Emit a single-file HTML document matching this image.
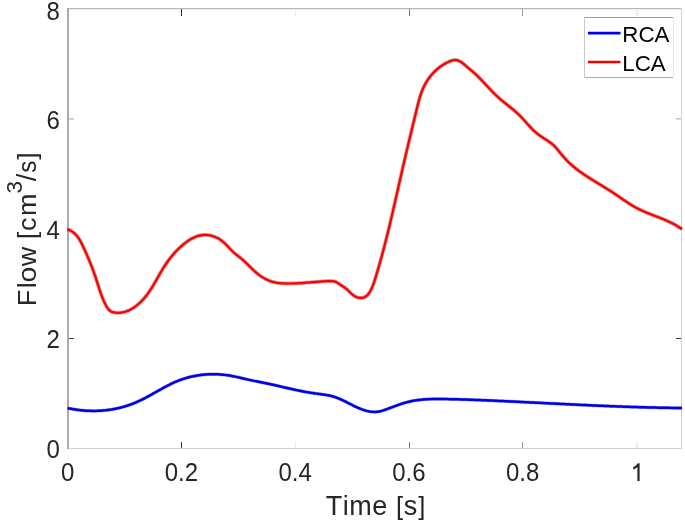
<!DOCTYPE html>
<html><head><meta charset="utf-8"><style>
html,body{margin:0;padding:0;background:#fff;overflow:hidden;}
svg{display:block;font-family:"Liberation Sans",sans-serif;will-change:transform;}

</style></head><body>
<svg width="685" height="522" viewBox="0 0 685 522">
<rect width="685" height="522" fill="#fff"/>
<rect x="67" y="8" width="615" height="1" fill="#b6b6b6"/>
<rect x="67" y="9" width="615" height="0.35" fill="#d8d8d8"/>
<rect x="67" y="448" width="615" height="1" fill="#d2d2d2"/>
<rect x="67" y="8" width="2" height="441" fill="#ababab"/>
<rect x="681" y="8" width="1" height="441" fill="#d4d4d4"/>
<rect x="181" y="442" width="1" height="6" fill="#333333"/>
<rect x="181" y="9" width="1" height="7" fill="#333333"/>
<rect x="295" y="442" width="1" height="6" fill="#ececec"/>
<rect x="295" y="9" width="1" height="7" fill="#ececec"/>
<rect x="409" y="442" width="1" height="6" fill="#7a7a7a"/>
<rect x="409" y="9" width="1" height="7" fill="#7a7a7a"/>
<rect x="522" y="442" width="1" height="6" fill="#959595"/>
<rect x="522" y="9" width="1" height="7" fill="#959595"/>
<rect x="636" y="442" width="1" height="6" fill="#f0f0f0"/>
<rect x="636" y="9" width="1" height="7" fill="#f0f0f0"/>
<rect x="637" y="442" width="1" height="6" fill="#eaeaea"/>
<rect x="637" y="9" width="1" height="7" fill="#eaeaea"/>
<rect x="69" y="338" width="5" height="1" fill="#3a3a3a"/>
<rect x="676" y="338" width="5" height="1" fill="#3a3a3a"/>
<rect x="69" y="228" width="5" height="1" fill="#d8d8d8"/>
<rect x="676" y="228" width="5" height="1" fill="#d8d8d8"/>
<rect x="69" y="118.4" width="5" height="1" fill="#a8a8a8"/>
<rect x="676" y="118.4" width="5" height="1" fill="#a8a8a8"/>
<path d="M67.60,408.10 L68.77,408.35 L69.95,408.59 L71.13,408.82 L72.31,409.03 L73.49,409.24 L74.68,409.43 L75.87,409.61 L77.05,409.78 L78.24,409.94 L79.44,410.09 L80.63,410.22 L81.82,410.34 L83.02,410.46 L84.21,410.55 L85.41,410.64 L86.61,410.72 L87.81,410.78 L89.01,410.83 L90.21,410.87 L91.41,410.90 L92.61,410.91 L93.81,410.91 L95.01,410.90 L96.21,410.88 L97.41,410.84 L98.61,410.80 L99.81,410.74 L101.01,410.66 L102.21,410.58 L103.40,410.48 L104.60,410.37 L105.79,410.25 L106.99,410.11 L108.18,409.96 L109.37,409.80 L110.55,409.63 L111.74,409.44 L112.92,409.24 L114.11,409.02 L115.28,408.80 L116.46,408.56 L117.63,408.30 L118.80,408.04 L119.97,407.76 L121.14,407.46 L122.30,407.16 L123.45,406.84 L124.61,406.50 L125.76,406.16 L126.90,405.80 L128.04,405.42 L129.18,405.04 L130.31,404.64 L131.44,404.22 L132.56,403.79 L133.68,403.35 L134.79,402.90 L135.90,402.43 L137.00,401.95 L138.09,401.46 L139.18,400.96 L140.27,400.44 L141.35,399.92 L142.42,399.38 L143.49,398.84 L144.56,398.29 L145.63,397.74 L146.69,397.17 L147.74,396.61 L148.80,396.03 L149.85,395.46 L150.90,394.88 L151.95,394.29 L153.00,393.71 L154.05,393.12 L155.09,392.53 L156.14,391.94 L157.18,391.35 L158.23,390.76 L159.28,390.17 L160.33,389.59 L161.38,389.01 L162.43,388.43 L163.48,387.85 L164.54,387.28 L165.60,386.72 L166.66,386.16 L167.72,385.60 L168.79,385.06 L169.87,384.52 L170.95,383.99 L172.03,383.47 L173.12,382.96 L174.21,382.46 L175.30,381.98 L176.41,381.50 L177.52,381.04 L178.63,380.59 L179.75,380.16 L180.88,379.74 L182.01,379.34 L183.14,378.95 L184.29,378.58 L185.43,378.23 L186.58,377.89 L187.74,377.56 L188.90,377.25 L190.06,376.96 L191.23,376.68 L192.40,376.42 L193.58,376.17 L194.76,375.94 L195.94,375.72 L197.12,375.52 L198.31,375.33 L199.49,375.16 L200.68,375.00 L201.88,374.85 L203.07,374.72 L204.26,374.61 L205.46,374.51 L206.66,374.43 L207.86,374.36 L209.06,374.30 L210.26,374.26 L211.46,374.23 L212.66,374.22 L213.86,374.22 L215.06,374.24 L216.26,374.27 L217.46,374.31 L218.66,374.37 L219.86,374.45 L221.05,374.53 L222.25,374.63 L223.45,374.75 L224.64,374.88 L225.83,375.02 L227.02,375.18 L228.21,375.35 L229.40,375.54 L230.58,375.73 L231.76,375.95 L232.94,376.17 L234.12,376.41 L235.29,376.65 L236.47,376.90 L237.64,377.16 L238.81,377.43 L239.98,377.70 L241.15,377.98 L242.32,378.25 L243.49,378.53 L244.65,378.80 L245.82,379.08 L246.99,379.35 L248.16,379.62 L249.33,379.88 L250.51,380.14 L251.68,380.39 L252.86,380.63 L254.03,380.87 L255.21,381.11 L256.39,381.34 L257.57,381.57 L258.75,381.80 L259.92,382.03 L261.10,382.25 L262.28,382.49 L263.46,382.72 L264.64,382.96 L265.81,383.20 L266.99,383.44 L268.16,383.69 L269.34,383.94 L270.51,384.20 L271.68,384.46 L272.85,384.72 L274.02,384.99 L275.19,385.26 L276.36,385.52 L277.53,385.79 L278.70,386.07 L279.87,386.34 L281.04,386.61 L282.21,386.89 L283.38,387.16 L284.55,387.43 L285.72,387.70 L286.89,387.97 L288.06,388.24 L289.23,388.51 L290.40,388.78 L291.57,389.04 L292.74,389.30 L293.92,389.56 L295.09,389.81 L296.26,390.06 L297.44,390.31 L298.61,390.55 L299.79,390.79 L300.97,391.02 L302.15,391.25 L303.33,391.48 L304.51,391.70 L305.69,391.91 L306.87,392.12 L308.05,392.33 L309.24,392.53 L310.42,392.73 L311.61,392.92 L312.79,393.10 L313.98,393.28 L315.17,393.45 L316.36,393.62 L317.55,393.78 L318.74,393.94 L319.93,394.09 L321.12,394.24 L322.31,394.40 L323.50,394.56 L324.69,394.73 L325.88,394.91 L327.06,395.11 L328.24,395.32 L329.42,395.56 L330.59,395.82 L331.75,396.11 L332.91,396.44 L334.06,396.79 L335.20,397.16 L336.33,397.57 L337.45,398.00 L338.56,398.44 L339.67,398.91 L340.77,399.39 L341.86,399.89 L342.95,400.40 L344.03,400.92 L345.11,401.45 L346.18,401.99 L347.25,402.53 L348.33,403.07 L349.40,403.62 L350.47,404.16 L351.54,404.70 L352.61,405.24 L353.69,405.77 L354.77,406.29 L355.85,406.81 L356.95,407.31 L358.04,407.80 L359.15,408.27 L360.26,408.72 L361.38,409.16 L362.51,409.57 L363.64,409.96 L364.79,410.32 L365.94,410.65 L367.10,410.95 L368.27,411.22 L369.45,411.45 L370.64,411.64 L371.83,411.78 L373.03,411.87 L374.23,411.90 L375.43,411.88 L376.62,411.79 L377.82,411.65 L379.00,411.46 L380.18,411.22 L381.34,410.95 L382.50,410.63 L383.65,410.28 L384.79,409.91 L385.93,409.52 L387.06,409.11 L388.18,408.69 L389.31,408.27 L390.43,407.84 L391.55,407.41 L392.67,406.99 L393.80,406.57 L394.92,406.15 L396.05,405.73 L397.18,405.33 L398.31,404.93 L399.45,404.53 L400.58,404.15 L401.72,403.77 L402.87,403.41 L404.02,403.06 L405.17,402.72 L406.32,402.39 L407.48,402.08 L408.65,401.79 L409.81,401.51 L410.99,401.25 L412.16,401.01 L413.34,400.78 L414.52,400.58 L415.71,400.38 L416.90,400.21 L418.09,400.05 L419.28,399.90 L420.47,399.77 L421.67,399.65 L422.86,399.54 L424.06,399.44 L425.26,399.36 L426.46,399.28 L427.65,399.22 L428.85,399.17 L430.05,399.12 L431.25,399.08 L432.45,399.05 L433.65,399.03 L434.85,399.02 L436.06,399.01 L437.26,399.00 L438.46,399.01 L439.66,399.01 L440.86,399.02 L442.06,399.03 L443.26,399.05 L444.46,399.06 L445.66,399.08 L446.86,399.10 L448.06,399.12 L449.26,399.15 L450.46,399.17 L451.66,399.20 L452.86,399.22 L454.06,399.25 L455.26,399.28 L456.46,399.31 L457.66,399.34 L458.86,399.37 L460.06,399.40 L461.26,399.44 L462.46,399.47 L463.66,399.51 L464.86,399.55 L466.06,399.58 L467.26,399.62 L468.46,399.66 L469.66,399.70 L470.86,399.75 L472.06,399.79 L473.26,399.83 L474.46,399.88 L475.66,399.92 L476.86,399.97 L478.06,400.01 L479.26,400.06 L480.46,400.11 L481.66,400.15 L482.86,400.20 L484.06,400.25 L485.26,400.30 L486.46,400.35 L487.66,400.40 L488.86,400.46 L490.06,400.51 L491.26,400.56 L492.46,400.61 L493.66,400.67 L494.86,400.72 L496.06,400.78 L497.26,400.83 L498.45,400.88 L499.65,400.94 L500.85,400.99 L502.05,401.05 L503.25,401.11 L504.45,401.16 L505.65,401.22 L506.85,401.27 L508.05,401.33 L509.25,401.39 L510.45,401.44 L511.65,401.50 L512.85,401.56 L514.05,401.62 L515.24,401.67 L516.44,401.73 L517.64,401.79 L518.84,401.85 L520.04,401.91 L521.24,401.97 L522.44,402.02 L523.64,402.08 L524.84,402.14 L526.04,402.20 L527.24,402.26 L528.44,402.32 L529.64,402.38 L530.83,402.44 L532.03,402.50 L533.23,402.56 L534.43,402.61 L535.63,402.67 L536.83,402.73 L538.03,402.79 L539.23,402.85 L540.43,402.91 L541.63,402.97 L542.83,403.03 L544.03,403.09 L545.22,403.15 L546.42,403.21 L547.62,403.27 L548.82,403.33 L550.02,403.39 L551.22,403.45 L552.42,403.51 L553.62,403.56 L554.82,403.62 L556.02,403.68 L557.22,403.74 L558.42,403.80 L559.61,403.86 L560.81,403.92 L562.01,403.98 L563.21,404.03 L564.41,404.09 L565.61,404.15 L566.81,404.21 L568.01,404.27 L569.21,404.32 L570.41,404.38 L571.61,404.44 L572.81,404.50 L574.01,404.55 L575.20,404.61 L576.40,404.67 L577.60,404.72 L578.80,404.78 L580.00,404.84 L581.20,404.89 L582.40,404.95 L583.60,405.00 L584.80,405.06 L586.00,405.11 L587.20,405.17 L588.40,405.22 L589.60,405.27 L590.80,405.33 L592.00,405.38 L593.20,405.43 L594.39,405.49 L595.59,405.54 L596.79,405.59 L597.99,405.64 L599.19,405.69 L600.39,405.74 L601.59,405.79 L602.79,405.84 L603.99,405.89 L605.19,405.94 L606.39,405.99 L607.59,406.04 L608.79,406.09 L609.99,406.14 L611.19,406.19 L612.39,406.23 L613.59,406.28 L614.79,406.33 L615.99,406.37 L617.19,406.42 L618.39,406.46 L619.59,406.51 L620.79,406.55 L621.99,406.59 L623.19,406.64 L624.39,406.68 L625.59,406.72 L626.79,406.76 L627.99,406.80 L629.19,406.84 L630.39,406.88 L631.59,406.92 L632.79,406.96 L633.99,407.00 L635.19,407.04 L636.39,407.08 L637.59,407.11 L638.79,407.15 L639.99,407.18 L641.19,407.22 L642.39,407.25 L643.59,407.29 L644.79,407.32 L645.99,407.35 L647.19,407.38 L648.39,407.42 L649.59,407.45 L650.79,407.48 L651.99,407.51 L653.19,407.53 L654.39,407.56 L655.59,407.59 L656.79,407.62 L657.99,407.64 L659.19,407.67 L660.39,407.69 L661.59,407.71 L662.79,407.74 L663.99,407.76 L665.19,407.78 L666.39,407.80 L667.59,407.82 L668.79,407.84 L669.99,407.86 L671.19,407.88 L672.40,407.89 L673.60,407.91 L674.80,407.93 L676.00,407.94 L677.20,407.95 L678.40,407.97 L679.60,407.98 L680.80,407.99 L682.00,408.00" fill="none" stroke="#4848a0" stroke-width="3.4" stroke-linejoin="round" stroke-opacity="0.5"/>
<path d="M67.60,408.10 L68.77,408.35 L69.95,408.59 L71.13,408.82 L72.31,409.03 L73.49,409.24 L74.68,409.43 L75.87,409.61 L77.05,409.78 L78.24,409.94 L79.44,410.09 L80.63,410.22 L81.82,410.34 L83.02,410.46 L84.21,410.55 L85.41,410.64 L86.61,410.72 L87.81,410.78 L89.01,410.83 L90.21,410.87 L91.41,410.90 L92.61,410.91 L93.81,410.91 L95.01,410.90 L96.21,410.88 L97.41,410.84 L98.61,410.80 L99.81,410.74 L101.01,410.66 L102.21,410.58 L103.40,410.48 L104.60,410.37 L105.79,410.25 L106.99,410.11 L108.18,409.96 L109.37,409.80 L110.55,409.63 L111.74,409.44 L112.92,409.24 L114.11,409.02 L115.28,408.80 L116.46,408.56 L117.63,408.30 L118.80,408.04 L119.97,407.76 L121.14,407.46 L122.30,407.16 L123.45,406.84 L124.61,406.50 L125.76,406.16 L126.90,405.80 L128.04,405.42 L129.18,405.04 L130.31,404.64 L131.44,404.22 L132.56,403.79 L133.68,403.35 L134.79,402.90 L135.90,402.43 L137.00,401.95 L138.09,401.46 L139.18,400.96 L140.27,400.44 L141.35,399.92 L142.42,399.38 L143.49,398.84 L144.56,398.29 L145.63,397.74 L146.69,397.17 L147.74,396.61 L148.80,396.03 L149.85,395.46 L150.90,394.88 L151.95,394.29 L153.00,393.71 L154.05,393.12 L155.09,392.53 L156.14,391.94 L157.18,391.35 L158.23,390.76 L159.28,390.17 L160.33,389.59 L161.38,389.01 L162.43,388.43 L163.48,387.85 L164.54,387.28 L165.60,386.72 L166.66,386.16 L167.72,385.60 L168.79,385.06 L169.87,384.52 L170.95,383.99 L172.03,383.47 L173.12,382.96 L174.21,382.46 L175.30,381.98 L176.41,381.50 L177.52,381.04 L178.63,380.59 L179.75,380.16 L180.88,379.74 L182.01,379.34 L183.14,378.95 L184.29,378.58 L185.43,378.23 L186.58,377.89 L187.74,377.56 L188.90,377.25 L190.06,376.96 L191.23,376.68 L192.40,376.42 L193.58,376.17 L194.76,375.94 L195.94,375.72 L197.12,375.52 L198.31,375.33 L199.49,375.16 L200.68,375.00 L201.88,374.85 L203.07,374.72 L204.26,374.61 L205.46,374.51 L206.66,374.43 L207.86,374.36 L209.06,374.30 L210.26,374.26 L211.46,374.23 L212.66,374.22 L213.86,374.22 L215.06,374.24 L216.26,374.27 L217.46,374.31 L218.66,374.37 L219.86,374.45 L221.05,374.53 L222.25,374.63 L223.45,374.75 L224.64,374.88 L225.83,375.02 L227.02,375.18 L228.21,375.35 L229.40,375.54 L230.58,375.73 L231.76,375.95 L232.94,376.17 L234.12,376.41 L235.29,376.65 L236.47,376.90 L237.64,377.16 L238.81,377.43 L239.98,377.70 L241.15,377.98 L242.32,378.25 L243.49,378.53 L244.65,378.80 L245.82,379.08 L246.99,379.35 L248.16,379.62 L249.33,379.88 L250.51,380.14 L251.68,380.39 L252.86,380.63 L254.03,380.87 L255.21,381.11 L256.39,381.34 L257.57,381.57 L258.75,381.80 L259.92,382.03 L261.10,382.25 L262.28,382.49 L263.46,382.72 L264.64,382.96 L265.81,383.20 L266.99,383.44 L268.16,383.69 L269.34,383.94 L270.51,384.20 L271.68,384.46 L272.85,384.72 L274.02,384.99 L275.19,385.26 L276.36,385.52 L277.53,385.79 L278.70,386.07 L279.87,386.34 L281.04,386.61 L282.21,386.89 L283.38,387.16 L284.55,387.43 L285.72,387.70 L286.89,387.97 L288.06,388.24 L289.23,388.51 L290.40,388.78 L291.57,389.04 L292.74,389.30 L293.92,389.56 L295.09,389.81 L296.26,390.06 L297.44,390.31 L298.61,390.55 L299.79,390.79 L300.97,391.02 L302.15,391.25 L303.33,391.48 L304.51,391.70 L305.69,391.91 L306.87,392.12 L308.05,392.33 L309.24,392.53 L310.42,392.73 L311.61,392.92 L312.79,393.10 L313.98,393.28 L315.17,393.45 L316.36,393.62 L317.55,393.78 L318.74,393.94 L319.93,394.09 L321.12,394.24 L322.31,394.40 L323.50,394.56 L324.69,394.73 L325.88,394.91 L327.06,395.11 L328.24,395.32 L329.42,395.56 L330.59,395.82 L331.75,396.11 L332.91,396.44 L334.06,396.79 L335.20,397.16 L336.33,397.57 L337.45,398.00 L338.56,398.44 L339.67,398.91 L340.77,399.39 L341.86,399.89 L342.95,400.40 L344.03,400.92 L345.11,401.45 L346.18,401.99 L347.25,402.53 L348.33,403.07 L349.40,403.62 L350.47,404.16 L351.54,404.70 L352.61,405.24 L353.69,405.77 L354.77,406.29 L355.85,406.81 L356.95,407.31 L358.04,407.80 L359.15,408.27 L360.26,408.72 L361.38,409.16 L362.51,409.57 L363.64,409.96 L364.79,410.32 L365.94,410.65 L367.10,410.95 L368.27,411.22 L369.45,411.45 L370.64,411.64 L371.83,411.78 L373.03,411.87 L374.23,411.90 L375.43,411.88 L376.62,411.79 L377.82,411.65 L379.00,411.46 L380.18,411.22 L381.34,410.95 L382.50,410.63 L383.65,410.28 L384.79,409.91 L385.93,409.52 L387.06,409.11 L388.18,408.69 L389.31,408.27 L390.43,407.84 L391.55,407.41 L392.67,406.99 L393.80,406.57 L394.92,406.15 L396.05,405.73 L397.18,405.33 L398.31,404.93 L399.45,404.53 L400.58,404.15 L401.72,403.77 L402.87,403.41 L404.02,403.06 L405.17,402.72 L406.32,402.39 L407.48,402.08 L408.65,401.79 L409.81,401.51 L410.99,401.25 L412.16,401.01 L413.34,400.78 L414.52,400.58 L415.71,400.38 L416.90,400.21 L418.09,400.05 L419.28,399.90 L420.47,399.77 L421.67,399.65 L422.86,399.54 L424.06,399.44 L425.26,399.36 L426.46,399.28 L427.65,399.22 L428.85,399.17 L430.05,399.12 L431.25,399.08 L432.45,399.05 L433.65,399.03 L434.85,399.02 L436.06,399.01 L437.26,399.00 L438.46,399.01 L439.66,399.01 L440.86,399.02 L442.06,399.03 L443.26,399.05 L444.46,399.06 L445.66,399.08 L446.86,399.10 L448.06,399.12 L449.26,399.15 L450.46,399.17 L451.66,399.20 L452.86,399.22 L454.06,399.25 L455.26,399.28 L456.46,399.31 L457.66,399.34 L458.86,399.37 L460.06,399.40 L461.26,399.44 L462.46,399.47 L463.66,399.51 L464.86,399.55 L466.06,399.58 L467.26,399.62 L468.46,399.66 L469.66,399.70 L470.86,399.75 L472.06,399.79 L473.26,399.83 L474.46,399.88 L475.66,399.92 L476.86,399.97 L478.06,400.01 L479.26,400.06 L480.46,400.11 L481.66,400.15 L482.86,400.20 L484.06,400.25 L485.26,400.30 L486.46,400.35 L487.66,400.40 L488.86,400.46 L490.06,400.51 L491.26,400.56 L492.46,400.61 L493.66,400.67 L494.86,400.72 L496.06,400.78 L497.26,400.83 L498.45,400.88 L499.65,400.94 L500.85,400.99 L502.05,401.05 L503.25,401.11 L504.45,401.16 L505.65,401.22 L506.85,401.27 L508.05,401.33 L509.25,401.39 L510.45,401.44 L511.65,401.50 L512.85,401.56 L514.05,401.62 L515.24,401.67 L516.44,401.73 L517.64,401.79 L518.84,401.85 L520.04,401.91 L521.24,401.97 L522.44,402.02 L523.64,402.08 L524.84,402.14 L526.04,402.20 L527.24,402.26 L528.44,402.32 L529.64,402.38 L530.83,402.44 L532.03,402.50 L533.23,402.56 L534.43,402.61 L535.63,402.67 L536.83,402.73 L538.03,402.79 L539.23,402.85 L540.43,402.91 L541.63,402.97 L542.83,403.03 L544.03,403.09 L545.22,403.15 L546.42,403.21 L547.62,403.27 L548.82,403.33 L550.02,403.39 L551.22,403.45 L552.42,403.51 L553.62,403.56 L554.82,403.62 L556.02,403.68 L557.22,403.74 L558.42,403.80 L559.61,403.86 L560.81,403.92 L562.01,403.98 L563.21,404.03 L564.41,404.09 L565.61,404.15 L566.81,404.21 L568.01,404.27 L569.21,404.32 L570.41,404.38 L571.61,404.44 L572.81,404.50 L574.01,404.55 L575.20,404.61 L576.40,404.67 L577.60,404.72 L578.80,404.78 L580.00,404.84 L581.20,404.89 L582.40,404.95 L583.60,405.00 L584.80,405.06 L586.00,405.11 L587.20,405.17 L588.40,405.22 L589.60,405.27 L590.80,405.33 L592.00,405.38 L593.20,405.43 L594.39,405.49 L595.59,405.54 L596.79,405.59 L597.99,405.64 L599.19,405.69 L600.39,405.74 L601.59,405.79 L602.79,405.84 L603.99,405.89 L605.19,405.94 L606.39,405.99 L607.59,406.04 L608.79,406.09 L609.99,406.14 L611.19,406.19 L612.39,406.23 L613.59,406.28 L614.79,406.33 L615.99,406.37 L617.19,406.42 L618.39,406.46 L619.59,406.51 L620.79,406.55 L621.99,406.59 L623.19,406.64 L624.39,406.68 L625.59,406.72 L626.79,406.76 L627.99,406.80 L629.19,406.84 L630.39,406.88 L631.59,406.92 L632.79,406.96 L633.99,407.00 L635.19,407.04 L636.39,407.08 L637.59,407.11 L638.79,407.15 L639.99,407.18 L641.19,407.22 L642.39,407.25 L643.59,407.29 L644.79,407.32 L645.99,407.35 L647.19,407.38 L648.39,407.42 L649.59,407.45 L650.79,407.48 L651.99,407.51 L653.19,407.53 L654.39,407.56 L655.59,407.59 L656.79,407.62 L657.99,407.64 L659.19,407.67 L660.39,407.69 L661.59,407.71 L662.79,407.74 L663.99,407.76 L665.19,407.78 L666.39,407.80 L667.59,407.82 L668.79,407.84 L669.99,407.86 L671.19,407.88 L672.40,407.89 L673.60,407.91 L674.80,407.93 L676.00,407.94 L677.20,407.95 L678.40,407.97 L679.60,407.98 L680.80,407.99 L682.00,408.00" fill="none" stroke="#0000f0" stroke-width="2.5" stroke-linejoin="round"/>
<path d="M67.30,229.30 L68.43,229.70 L69.54,230.17 L70.61,230.70 L71.66,231.30 L72.66,231.95 L73.62,232.67 L74.54,233.45 L75.41,234.27 L76.24,235.15 L77.02,236.06 L77.76,237.00 L78.46,237.98 L79.12,238.98 L79.75,240.00 L80.35,241.04 L80.93,242.10 L81.48,243.16 L82.02,244.24 L82.54,245.32 L83.05,246.41 L83.56,247.50 L84.06,248.59 L84.56,249.68 L85.06,250.77 L85.55,251.87 L86.04,252.97 L86.53,254.06 L87.01,255.16 L87.48,256.27 L87.96,257.37 L88.43,258.48 L88.89,259.58 L89.36,260.69 L89.81,261.80 L90.26,262.92 L90.71,264.03 L91.15,265.15 L91.59,266.27 L92.02,267.39 L92.45,268.51 L92.87,269.63 L93.29,270.76 L93.70,271.89 L94.10,273.02 L94.50,274.15 L94.90,275.29 L95.28,276.42 L95.66,277.56 L96.04,278.70 L96.41,279.85 L96.78,280.99 L97.14,282.14 L97.50,283.28 L97.86,284.43 L98.23,285.57 L98.59,286.72 L98.96,287.86 L99.33,289.00 L99.70,290.14 L100.08,291.28 L100.47,292.42 L100.87,293.55 L101.28,294.68 L101.70,295.81 L102.13,296.93 L102.57,298.05 L103.03,299.16 L103.50,300.26 L103.98,301.36 L104.49,302.45 L105.01,303.53 L105.55,304.61 L106.11,305.67 L106.69,306.72 L107.30,307.75 L107.99,308.74 L108.76,309.66 L109.63,310.48 L110.62,311.17 L111.68,311.71 L112.81,312.14 L113.97,312.44 L115.15,312.65 L116.35,312.76 L117.55,312.80 L118.75,312.78 L119.95,312.70 L121.14,312.56 L122.33,312.37 L123.50,312.12 L124.66,311.82 L125.81,311.47 L126.95,311.07 L128.06,310.63 L129.16,310.15 L130.24,309.62 L131.30,309.06 L132.35,308.46 L133.37,307.83 L134.37,307.17 L135.35,306.48 L136.31,305.76 L137.26,305.01 L138.18,304.25 L139.08,303.45 L139.97,302.64 L140.84,301.81 L141.68,300.96 L142.52,300.09 L143.33,299.21 L144.12,298.31 L144.90,297.40 L145.66,296.47 L146.41,295.53 L147.14,294.57 L147.85,293.61 L148.55,292.63 L149.24,291.64 L149.91,290.65 L150.57,289.65 L151.22,288.64 L151.86,287.62 L152.49,286.60 L153.12,285.57 L153.73,284.54 L154.34,283.50 L154.94,282.46 L155.54,281.42 L156.14,280.38 L156.73,279.33 L157.32,278.29 L157.91,277.24 L158.50,276.20 L159.09,275.15 L159.69,274.11 L160.29,273.07 L160.89,272.03 L161.50,271.00 L162.12,269.96 L162.74,268.94 L163.37,267.92 L164.01,266.90 L164.67,265.89 L165.33,264.89 L166.00,263.89 L166.68,262.90 L167.37,261.92 L168.07,260.95 L168.79,259.98 L169.51,259.02 L170.24,258.07 L170.99,257.13 L171.75,256.20 L172.51,255.27 L173.29,254.36 L174.08,253.45 L174.89,252.56 L175.70,251.68 L176.53,250.81 L177.36,249.94 L178.21,249.09 L179.07,248.26 L179.95,247.43 L180.83,246.62 L181.73,245.82 L182.64,245.03 L183.56,244.26 L184.49,243.50 L185.43,242.76 L186.39,242.04 L187.36,241.33 L188.35,240.65 L189.35,239.99 L190.38,239.36 L191.41,238.76 L192.47,238.18 L193.55,237.65 L194.64,237.15 L195.75,236.70 L196.88,236.29 L198.03,235.93 L199.19,235.62 L200.36,235.37 L201.55,235.17 L202.74,235.04 L203.94,234.97 L205.14,234.95 L206.34,234.99 L207.54,235.09 L208.73,235.23 L209.91,235.43 L211.09,235.68 L212.25,235.98 L213.40,236.32 L214.54,236.71 L215.65,237.15 L216.75,237.64 L217.83,238.18 L218.88,238.76 L219.90,239.39 L220.89,240.06 L221.85,240.78 L222.79,241.54 L223.69,242.33 L224.57,243.15 L225.43,243.99 L226.28,244.84 L227.11,245.71 L227.93,246.58 L228.75,247.46 L229.58,248.33 L230.40,249.20 L231.24,250.07 L232.09,250.91 L232.96,251.74 L233.85,252.55 L234.76,253.33 L235.69,254.10 L236.62,254.85 L237.56,255.60 L238.51,256.34 L239.45,257.09 L240.38,257.85 L241.30,258.61 L242.22,259.39 L243.12,260.19 L244.01,260.99 L244.90,261.80 L245.77,262.62 L246.64,263.46 L247.50,264.30 L248.35,265.14 L249.20,265.99 L250.05,266.84 L250.90,267.69 L251.75,268.53 L252.61,269.37 L253.49,270.20 L254.37,271.01 L255.27,271.80 L256.18,272.59 L257.11,273.35 L258.05,274.10 L259.00,274.83 L259.97,275.53 L260.96,276.22 L261.96,276.88 L262.98,277.52 L264.01,278.13 L265.06,278.72 L266.13,279.27 L267.21,279.79 L268.31,280.28 L269.42,280.74 L270.54,281.16 L271.68,281.54 L272.83,281.88 L273.99,282.19 L275.17,282.45 L276.35,282.68 L277.53,282.87 L278.72,283.03 L279.92,283.16 L281.11,283.27 L282.31,283.36 L283.51,283.42 L284.71,283.47 L285.91,283.50 L287.11,283.52 L288.31,283.52 L289.51,283.52 L290.71,283.51 L291.92,283.49 L293.12,283.46 L294.32,283.42 L295.52,283.38 L296.72,283.32 L297.92,283.27 L299.12,283.20 L300.31,283.13 L301.51,283.06 L302.71,282.98 L303.91,282.89 L305.11,282.80 L306.31,282.71 L307.50,282.62 L308.70,282.52 L309.90,282.42 L311.09,282.32 L312.29,282.22 L313.49,282.12 L314.69,282.03 L315.88,281.93 L317.08,281.83 L318.28,281.74 L319.47,281.64 L320.67,281.55 L321.87,281.47 L323.07,281.38 L324.27,281.31 L325.47,281.23 L326.67,281.17 L327.86,281.10 L329.06,281.05 L330.27,281.02 L331.47,281.04 L332.66,281.13 L333.85,281.32 L335.01,281.62 L336.13,282.06 L337.19,282.62 L338.21,283.25 L339.20,283.93 L340.18,284.62 L341.18,285.30 L342.19,285.94 L343.21,286.59 L344.21,287.25 L345.18,287.95 L346.12,288.70 L347.03,289.49 L347.91,290.30 L348.77,291.14 L349.64,291.97 L350.50,292.80 L351.39,293.62 L352.30,294.40 L353.24,295.15 L354.22,295.83 L355.26,296.44 L356.34,296.96 L357.47,297.36 L358.64,297.66 L359.82,297.85 L361.02,297.93 L362.22,297.88 L363.40,297.66 L364.52,297.25 L365.57,296.66 L366.53,295.94 L367.40,295.12 L368.20,294.22 L368.92,293.26 L369.59,292.26 L370.21,291.23 L370.78,290.18 L371.33,289.11 L371.84,288.02 L372.32,286.92 L372.78,285.81 L373.21,284.69 L373.62,283.56 L374.02,282.43 L374.39,281.29 L374.76,280.14 L375.11,278.99 L375.47,277.85 L375.82,276.70 L376.16,275.55 L376.51,274.40 L376.86,273.25 L377.20,272.10 L377.54,270.94 L377.88,269.79 L378.21,268.64 L378.55,267.48 L378.88,266.33 L379.21,265.18 L379.54,264.02 L379.87,262.87 L380.19,261.71 L380.52,260.55 L380.84,259.40 L381.16,258.24 L381.48,257.08 L381.80,255.92 L382.11,254.76 L382.43,253.60 L382.74,252.44 L383.05,251.28 L383.36,250.12 L383.66,248.96 L383.97,247.80 L384.27,246.64 L384.58,245.48 L384.88,244.31 L385.18,243.15 L385.48,241.99 L385.77,240.82 L386.07,239.66 L386.36,238.49 L386.66,237.33 L386.95,236.16 L387.24,235.00 L387.53,233.83 L387.81,232.67 L388.10,231.50 L388.38,230.33 L388.67,229.17 L388.95,228.00 L389.23,226.83 L389.51,225.66 L389.79,224.49 L390.07,223.33 L390.35,222.16 L390.63,220.99 L390.90,219.82 L391.18,218.65 L391.45,217.48 L391.73,216.31 L392.00,215.14 L392.27,213.97 L392.54,212.80 L392.81,211.63 L393.08,210.46 L393.35,209.29 L393.62,208.12 L393.89,206.95 L394.16,205.78 L394.43,204.61 L394.69,203.44 L394.96,202.27 L395.23,201.10 L395.49,199.92 L395.76,198.75 L396.02,197.58 L396.29,196.41 L396.55,195.24 L396.82,194.07 L397.08,192.89 L397.34,191.72 L397.61,190.55 L397.87,189.38 L398.14,188.21 L398.40,187.04 L398.66,185.86 L398.93,184.69 L399.19,183.52 L399.45,182.35 L399.72,181.18 L399.98,180.01 L400.25,178.83 L400.51,177.66 L400.78,176.49 L401.04,175.32 L401.31,174.15 L401.57,172.98 L401.84,171.81 L402.11,170.63 L402.38,169.46 L402.64,168.29 L402.91,167.12 L403.18,165.95 L403.45,164.78 L403.72,163.61 L403.99,162.44 L404.26,161.27 L404.53,160.10 L404.81,158.93 L405.08,157.76 L405.35,156.59 L405.63,155.42 L405.90,154.25 L406.18,153.08 L406.46,151.91 L406.73,150.75 L407.01,149.58 L407.29,148.41 L407.57,147.24 L407.84,146.07 L408.12,144.90 L408.40,143.74 L408.68,142.57 L408.96,141.40 L409.24,140.23 L409.52,139.06 L409.80,137.90 L410.08,136.73 L410.37,135.56 L410.65,134.39 L410.93,133.22 L411.21,132.06 L411.49,130.89 L411.77,129.72 L412.05,128.55 L412.34,127.39 L412.62,126.22 L412.90,125.05 L413.18,123.88 L413.46,122.72 L413.74,121.55 L414.03,120.38 L414.31,119.21 L414.59,118.05 L414.87,116.88 L415.16,115.71 L415.44,114.54 L415.72,113.38 L416.01,112.21 L416.29,111.04 L416.58,109.88 L416.87,108.71 L417.15,107.54 L417.44,106.38 L417.73,105.21 L418.02,104.05 L418.31,102.88 L418.61,101.72 L418.92,100.56 L419.23,99.40 L419.56,98.24 L419.90,97.09 L420.25,95.94 L420.62,94.80 L421.00,93.66 L421.41,92.53 L421.83,91.40 L422.27,90.29 L422.74,89.18 L423.23,88.08 L423.74,87.00 L424.27,85.92 L424.82,84.85 L425.39,83.80 L425.99,82.75 L426.61,81.72 L427.24,80.71 L427.90,79.70 L428.58,78.71 L429.28,77.74 L430.01,76.78 L430.75,75.83 L431.51,74.91 L432.30,74.00 L433.10,73.11 L433.93,72.24 L434.78,71.38 L435.64,70.55 L436.53,69.74 L437.43,68.95 L438.36,68.18 L439.30,67.44 L440.26,66.72 L441.24,66.02 L442.24,65.35 L443.25,64.70 L444.27,64.08 L445.32,63.48 L446.37,62.91 L447.44,62.37 L448.53,61.85 L449.63,61.36 L450.74,60.92 L451.88,60.53 L453.04,60.23 L454.23,60.04 L455.42,59.99 L456.62,60.12 L457.78,60.42 L458.90,60.86 L459.97,61.41 L460.99,62.03 L461.98,62.71 L462.94,63.44 L463.87,64.19 L464.79,64.96 L465.70,65.75 L466.62,66.53 L467.53,67.30 L468.46,68.07 L469.38,68.84 L470.30,69.61 L471.23,70.38 L472.15,71.15 L473.06,71.93 L473.96,72.72 L474.85,73.53 L475.74,74.34 L476.61,75.17 L477.47,76.00 L478.33,76.84 L479.18,77.69 L480.02,78.55 L480.85,79.41 L481.68,80.28 L482.51,81.15 L483.33,82.03 L484.15,82.91 L484.97,83.79 L485.79,84.67 L486.60,85.55 L487.42,86.43 L488.24,87.31 L489.06,88.19 L489.88,89.06 L490.70,89.94 L491.54,90.80 L492.37,91.67 L493.21,92.52 L494.06,93.37 L494.92,94.22 L495.78,95.05 L496.65,95.88 L497.54,96.69 L498.43,97.50 L499.33,98.29 L500.23,99.08 L501.15,99.86 L502.07,100.63 L502.99,101.40 L503.92,102.16 L504.85,102.91 L505.79,103.67 L506.73,104.42 L507.66,105.17 L508.60,105.93 L509.53,106.68 L510.47,107.43 L511.40,108.19 L512.33,108.96 L513.25,109.72 L514.17,110.50 L515.08,111.28 L515.98,112.07 L516.88,112.87 L517.77,113.68 L518.65,114.50 L519.51,115.33 L520.37,116.17 L521.21,117.03 L522.04,117.90 L522.86,118.78 L523.67,119.67 L524.47,120.56 L525.27,121.46 L526.06,122.36 L526.85,123.26 L527.64,124.17 L528.44,125.07 L529.24,125.96 L530.05,126.85 L530.87,127.73 L531.69,128.60 L532.54,129.46 L533.39,130.30 L534.26,131.13 L535.15,131.93 L536.06,132.72 L536.99,133.48 L537.94,134.21 L538.90,134.93 L539.88,135.63 L540.86,136.32 L541.86,136.99 L542.86,137.66 L543.87,138.31 L544.88,138.96 L545.89,139.61 L546.90,140.26 L547.90,140.92 L548.90,141.59 L549.88,142.28 L550.85,142.99 L551.81,143.72 L552.73,144.48 L553.63,145.28 L554.50,146.11 L555.33,146.98 L556.13,147.87 L556.91,148.79 L557.67,149.71 L558.43,150.65 L559.18,151.58 L559.94,152.51 L560.70,153.44 L561.47,154.37 L562.24,155.29 L563.02,156.20 L563.80,157.11 L564.60,158.01 L565.41,158.90 L566.23,159.78 L567.06,160.65 L567.90,161.50 L568.75,162.35 L569.62,163.18 L570.50,164.00 L571.39,164.80 L572.29,165.60 L573.20,166.38 L574.12,167.15 L575.06,167.91 L576.00,168.65 L576.94,169.39 L577.90,170.12 L578.86,170.84 L579.83,171.55 L580.80,172.25 L581.79,172.94 L582.77,173.63 L583.76,174.31 L584.76,174.98 L585.76,175.64 L586.76,176.30 L587.77,176.96 L588.78,177.61 L589.79,178.25 L590.81,178.89 L591.83,179.53 L592.85,180.17 L593.87,180.80 L594.89,181.43 L595.91,182.06 L596.94,182.68 L597.96,183.31 L598.99,183.93 L600.02,184.56 L601.04,185.18 L602.07,185.81 L603.09,186.44 L604.11,187.06 L605.14,187.69 L606.16,188.33 L607.18,188.96 L608.20,189.60 L609.21,190.24 L610.22,190.89 L611.23,191.54 L612.24,192.19 L613.24,192.85 L614.25,193.52 L615.24,194.19 L616.24,194.86 L617.23,195.53 L618.22,196.21 L619.21,196.89 L620.20,197.57 L621.19,198.25 L622.19,198.93 L623.18,199.60 L624.17,200.28 L625.17,200.95 L626.17,201.61 L627.17,202.27 L628.18,202.93 L629.19,203.58 L630.21,204.22 L631.23,204.85 L632.25,205.47 L633.29,206.09 L634.33,206.69 L635.37,207.28 L636.42,207.86 L637.48,208.42 L638.55,208.97 L639.63,209.51 L640.71,210.03 L641.80,210.54 L642.89,211.03 L643.99,211.52 L645.09,211.99 L646.20,212.46 L647.31,212.92 L648.42,213.37 L649.54,213.82 L650.66,214.26 L651.77,214.69 L652.89,215.13 L654.02,215.56 L655.14,215.99 L656.26,216.42 L657.38,216.86 L658.50,217.29 L659.62,217.73 L660.73,218.17 L661.85,218.62 L662.96,219.07 L664.07,219.53 L665.18,220.00 L666.28,220.47 L667.38,220.96 L668.47,221.46 L669.56,221.96 L670.64,222.48 L671.72,223.02 L672.79,223.56 L673.85,224.12 L674.90,224.70 L675.95,225.29 L676.99,225.90 L678.01,226.52 L679.03,227.17 L680.03,227.83 L681.02,228.50 L682.00,229.20" fill="none" stroke="#a83030" stroke-width="3.8" stroke-linejoin="round" stroke-opacity="0.5"/>
<path d="M67.30,229.30 L68.43,229.70 L69.54,230.17 L70.61,230.70 L71.66,231.30 L72.66,231.95 L73.62,232.67 L74.54,233.45 L75.41,234.27 L76.24,235.15 L77.02,236.06 L77.76,237.00 L78.46,237.98 L79.12,238.98 L79.75,240.00 L80.35,241.04 L80.93,242.10 L81.48,243.16 L82.02,244.24 L82.54,245.32 L83.05,246.41 L83.56,247.50 L84.06,248.59 L84.56,249.68 L85.06,250.77 L85.55,251.87 L86.04,252.97 L86.53,254.06 L87.01,255.16 L87.48,256.27 L87.96,257.37 L88.43,258.48 L88.89,259.58 L89.36,260.69 L89.81,261.80 L90.26,262.92 L90.71,264.03 L91.15,265.15 L91.59,266.27 L92.02,267.39 L92.45,268.51 L92.87,269.63 L93.29,270.76 L93.70,271.89 L94.10,273.02 L94.50,274.15 L94.90,275.29 L95.28,276.42 L95.66,277.56 L96.04,278.70 L96.41,279.85 L96.78,280.99 L97.14,282.14 L97.50,283.28 L97.86,284.43 L98.23,285.57 L98.59,286.72 L98.96,287.86 L99.33,289.00 L99.70,290.14 L100.08,291.28 L100.47,292.42 L100.87,293.55 L101.28,294.68 L101.70,295.81 L102.13,296.93 L102.57,298.05 L103.03,299.16 L103.50,300.26 L103.98,301.36 L104.49,302.45 L105.01,303.53 L105.55,304.61 L106.11,305.67 L106.69,306.72 L107.30,307.75 L107.99,308.74 L108.76,309.66 L109.63,310.48 L110.62,311.17 L111.68,311.71 L112.81,312.14 L113.97,312.44 L115.15,312.65 L116.35,312.76 L117.55,312.80 L118.75,312.78 L119.95,312.70 L121.14,312.56 L122.33,312.37 L123.50,312.12 L124.66,311.82 L125.81,311.47 L126.95,311.07 L128.06,310.63 L129.16,310.15 L130.24,309.62 L131.30,309.06 L132.35,308.46 L133.37,307.83 L134.37,307.17 L135.35,306.48 L136.31,305.76 L137.26,305.01 L138.18,304.25 L139.08,303.45 L139.97,302.64 L140.84,301.81 L141.68,300.96 L142.52,300.09 L143.33,299.21 L144.12,298.31 L144.90,297.40 L145.66,296.47 L146.41,295.53 L147.14,294.57 L147.85,293.61 L148.55,292.63 L149.24,291.64 L149.91,290.65 L150.57,289.65 L151.22,288.64 L151.86,287.62 L152.49,286.60 L153.12,285.57 L153.73,284.54 L154.34,283.50 L154.94,282.46 L155.54,281.42 L156.14,280.38 L156.73,279.33 L157.32,278.29 L157.91,277.24 L158.50,276.20 L159.09,275.15 L159.69,274.11 L160.29,273.07 L160.89,272.03 L161.50,271.00 L162.12,269.96 L162.74,268.94 L163.37,267.92 L164.01,266.90 L164.67,265.89 L165.33,264.89 L166.00,263.89 L166.68,262.90 L167.37,261.92 L168.07,260.95 L168.79,259.98 L169.51,259.02 L170.24,258.07 L170.99,257.13 L171.75,256.20 L172.51,255.27 L173.29,254.36 L174.08,253.45 L174.89,252.56 L175.70,251.68 L176.53,250.81 L177.36,249.94 L178.21,249.09 L179.07,248.26 L179.95,247.43 L180.83,246.62 L181.73,245.82 L182.64,245.03 L183.56,244.26 L184.49,243.50 L185.43,242.76 L186.39,242.04 L187.36,241.33 L188.35,240.65 L189.35,239.99 L190.38,239.36 L191.41,238.76 L192.47,238.18 L193.55,237.65 L194.64,237.15 L195.75,236.70 L196.88,236.29 L198.03,235.93 L199.19,235.62 L200.36,235.37 L201.55,235.17 L202.74,235.04 L203.94,234.97 L205.14,234.95 L206.34,234.99 L207.54,235.09 L208.73,235.23 L209.91,235.43 L211.09,235.68 L212.25,235.98 L213.40,236.32 L214.54,236.71 L215.65,237.15 L216.75,237.64 L217.83,238.18 L218.88,238.76 L219.90,239.39 L220.89,240.06 L221.85,240.78 L222.79,241.54 L223.69,242.33 L224.57,243.15 L225.43,243.99 L226.28,244.84 L227.11,245.71 L227.93,246.58 L228.75,247.46 L229.58,248.33 L230.40,249.20 L231.24,250.07 L232.09,250.91 L232.96,251.74 L233.85,252.55 L234.76,253.33 L235.69,254.10 L236.62,254.85 L237.56,255.60 L238.51,256.34 L239.45,257.09 L240.38,257.85 L241.30,258.61 L242.22,259.39 L243.12,260.19 L244.01,260.99 L244.90,261.80 L245.77,262.62 L246.64,263.46 L247.50,264.30 L248.35,265.14 L249.20,265.99 L250.05,266.84 L250.90,267.69 L251.75,268.53 L252.61,269.37 L253.49,270.20 L254.37,271.01 L255.27,271.80 L256.18,272.59 L257.11,273.35 L258.05,274.10 L259.00,274.83 L259.97,275.53 L260.96,276.22 L261.96,276.88 L262.98,277.52 L264.01,278.13 L265.06,278.72 L266.13,279.27 L267.21,279.79 L268.31,280.28 L269.42,280.74 L270.54,281.16 L271.68,281.54 L272.83,281.88 L273.99,282.19 L275.17,282.45 L276.35,282.68 L277.53,282.87 L278.72,283.03 L279.92,283.16 L281.11,283.27 L282.31,283.36 L283.51,283.42 L284.71,283.47 L285.91,283.50 L287.11,283.52 L288.31,283.52 L289.51,283.52 L290.71,283.51 L291.92,283.49 L293.12,283.46 L294.32,283.42 L295.52,283.38 L296.72,283.32 L297.92,283.27 L299.12,283.20 L300.31,283.13 L301.51,283.06 L302.71,282.98 L303.91,282.89 L305.11,282.80 L306.31,282.71 L307.50,282.62 L308.70,282.52 L309.90,282.42 L311.09,282.32 L312.29,282.22 L313.49,282.12 L314.69,282.03 L315.88,281.93 L317.08,281.83 L318.28,281.74 L319.47,281.64 L320.67,281.55 L321.87,281.47 L323.07,281.38 L324.27,281.31 L325.47,281.23 L326.67,281.17 L327.86,281.10 L329.06,281.05 L330.27,281.02 L331.47,281.04 L332.66,281.13 L333.85,281.32 L335.01,281.62 L336.13,282.06 L337.19,282.62 L338.21,283.25 L339.20,283.93 L340.18,284.62 L341.18,285.30 L342.19,285.94 L343.21,286.59 L344.21,287.25 L345.18,287.95 L346.12,288.70 L347.03,289.49 L347.91,290.30 L348.77,291.14 L349.64,291.97 L350.50,292.80 L351.39,293.62 L352.30,294.40 L353.24,295.15 L354.22,295.83 L355.26,296.44 L356.34,296.96 L357.47,297.36 L358.64,297.66 L359.82,297.85 L361.02,297.93 L362.22,297.88 L363.40,297.66 L364.52,297.25 L365.57,296.66 L366.53,295.94 L367.40,295.12 L368.20,294.22 L368.92,293.26 L369.59,292.26 L370.21,291.23 L370.78,290.18 L371.33,289.11 L371.84,288.02 L372.32,286.92 L372.78,285.81 L373.21,284.69 L373.62,283.56 L374.02,282.43 L374.39,281.29 L374.76,280.14 L375.11,278.99 L375.47,277.85 L375.82,276.70 L376.16,275.55 L376.51,274.40 L376.86,273.25 L377.20,272.10 L377.54,270.94 L377.88,269.79 L378.21,268.64 L378.55,267.48 L378.88,266.33 L379.21,265.18 L379.54,264.02 L379.87,262.87 L380.19,261.71 L380.52,260.55 L380.84,259.40 L381.16,258.24 L381.48,257.08 L381.80,255.92 L382.11,254.76 L382.43,253.60 L382.74,252.44 L383.05,251.28 L383.36,250.12 L383.66,248.96 L383.97,247.80 L384.27,246.64 L384.58,245.48 L384.88,244.31 L385.18,243.15 L385.48,241.99 L385.77,240.82 L386.07,239.66 L386.36,238.49 L386.66,237.33 L386.95,236.16 L387.24,235.00 L387.53,233.83 L387.81,232.67 L388.10,231.50 L388.38,230.33 L388.67,229.17 L388.95,228.00 L389.23,226.83 L389.51,225.66 L389.79,224.49 L390.07,223.33 L390.35,222.16 L390.63,220.99 L390.90,219.82 L391.18,218.65 L391.45,217.48 L391.73,216.31 L392.00,215.14 L392.27,213.97 L392.54,212.80 L392.81,211.63 L393.08,210.46 L393.35,209.29 L393.62,208.12 L393.89,206.95 L394.16,205.78 L394.43,204.61 L394.69,203.44 L394.96,202.27 L395.23,201.10 L395.49,199.92 L395.76,198.75 L396.02,197.58 L396.29,196.41 L396.55,195.24 L396.82,194.07 L397.08,192.89 L397.34,191.72 L397.61,190.55 L397.87,189.38 L398.14,188.21 L398.40,187.04 L398.66,185.86 L398.93,184.69 L399.19,183.52 L399.45,182.35 L399.72,181.18 L399.98,180.01 L400.25,178.83 L400.51,177.66 L400.78,176.49 L401.04,175.32 L401.31,174.15 L401.57,172.98 L401.84,171.81 L402.11,170.63 L402.38,169.46 L402.64,168.29 L402.91,167.12 L403.18,165.95 L403.45,164.78 L403.72,163.61 L403.99,162.44 L404.26,161.27 L404.53,160.10 L404.81,158.93 L405.08,157.76 L405.35,156.59 L405.63,155.42 L405.90,154.25 L406.18,153.08 L406.46,151.91 L406.73,150.75 L407.01,149.58 L407.29,148.41 L407.57,147.24 L407.84,146.07 L408.12,144.90 L408.40,143.74 L408.68,142.57 L408.96,141.40 L409.24,140.23 L409.52,139.06 L409.80,137.90 L410.08,136.73 L410.37,135.56 L410.65,134.39 L410.93,133.22 L411.21,132.06 L411.49,130.89 L411.77,129.72 L412.05,128.55 L412.34,127.39 L412.62,126.22 L412.90,125.05 L413.18,123.88 L413.46,122.72 L413.74,121.55 L414.03,120.38 L414.31,119.21 L414.59,118.05 L414.87,116.88 L415.16,115.71 L415.44,114.54 L415.72,113.38 L416.01,112.21 L416.29,111.04 L416.58,109.88 L416.87,108.71 L417.15,107.54 L417.44,106.38 L417.73,105.21 L418.02,104.05 L418.31,102.88 L418.61,101.72 L418.92,100.56 L419.23,99.40 L419.56,98.24 L419.90,97.09 L420.25,95.94 L420.62,94.80 L421.00,93.66 L421.41,92.53 L421.83,91.40 L422.27,90.29 L422.74,89.18 L423.23,88.08 L423.74,87.00 L424.27,85.92 L424.82,84.85 L425.39,83.80 L425.99,82.75 L426.61,81.72 L427.24,80.71 L427.90,79.70 L428.58,78.71 L429.28,77.74 L430.01,76.78 L430.75,75.83 L431.51,74.91 L432.30,74.00 L433.10,73.11 L433.93,72.24 L434.78,71.38 L435.64,70.55 L436.53,69.74 L437.43,68.95 L438.36,68.18 L439.30,67.44 L440.26,66.72 L441.24,66.02 L442.24,65.35 L443.25,64.70 L444.27,64.08 L445.32,63.48 L446.37,62.91 L447.44,62.37 L448.53,61.85 L449.63,61.36 L450.74,60.92 L451.88,60.53 L453.04,60.23 L454.23,60.04 L455.42,59.99 L456.62,60.12 L457.78,60.42 L458.90,60.86 L459.97,61.41 L460.99,62.03 L461.98,62.71 L462.94,63.44 L463.87,64.19 L464.79,64.96 L465.70,65.75 L466.62,66.53 L467.53,67.30 L468.46,68.07 L469.38,68.84 L470.30,69.61 L471.23,70.38 L472.15,71.15 L473.06,71.93 L473.96,72.72 L474.85,73.53 L475.74,74.34 L476.61,75.17 L477.47,76.00 L478.33,76.84 L479.18,77.69 L480.02,78.55 L480.85,79.41 L481.68,80.28 L482.51,81.15 L483.33,82.03 L484.15,82.91 L484.97,83.79 L485.79,84.67 L486.60,85.55 L487.42,86.43 L488.24,87.31 L489.06,88.19 L489.88,89.06 L490.70,89.94 L491.54,90.80 L492.37,91.67 L493.21,92.52 L494.06,93.37 L494.92,94.22 L495.78,95.05 L496.65,95.88 L497.54,96.69 L498.43,97.50 L499.33,98.29 L500.23,99.08 L501.15,99.86 L502.07,100.63 L502.99,101.40 L503.92,102.16 L504.85,102.91 L505.79,103.67 L506.73,104.42 L507.66,105.17 L508.60,105.93 L509.53,106.68 L510.47,107.43 L511.40,108.19 L512.33,108.96 L513.25,109.72 L514.17,110.50 L515.08,111.28 L515.98,112.07 L516.88,112.87 L517.77,113.68 L518.65,114.50 L519.51,115.33 L520.37,116.17 L521.21,117.03 L522.04,117.90 L522.86,118.78 L523.67,119.67 L524.47,120.56 L525.27,121.46 L526.06,122.36 L526.85,123.26 L527.64,124.17 L528.44,125.07 L529.24,125.96 L530.05,126.85 L530.87,127.73 L531.69,128.60 L532.54,129.46 L533.39,130.30 L534.26,131.13 L535.15,131.93 L536.06,132.72 L536.99,133.48 L537.94,134.21 L538.90,134.93 L539.88,135.63 L540.86,136.32 L541.86,136.99 L542.86,137.66 L543.87,138.31 L544.88,138.96 L545.89,139.61 L546.90,140.26 L547.90,140.92 L548.90,141.59 L549.88,142.28 L550.85,142.99 L551.81,143.72 L552.73,144.48 L553.63,145.28 L554.50,146.11 L555.33,146.98 L556.13,147.87 L556.91,148.79 L557.67,149.71 L558.43,150.65 L559.18,151.58 L559.94,152.51 L560.70,153.44 L561.47,154.37 L562.24,155.29 L563.02,156.20 L563.80,157.11 L564.60,158.01 L565.41,158.90 L566.23,159.78 L567.06,160.65 L567.90,161.50 L568.75,162.35 L569.62,163.18 L570.50,164.00 L571.39,164.80 L572.29,165.60 L573.20,166.38 L574.12,167.15 L575.06,167.91 L576.00,168.65 L576.94,169.39 L577.90,170.12 L578.86,170.84 L579.83,171.55 L580.80,172.25 L581.79,172.94 L582.77,173.63 L583.76,174.31 L584.76,174.98 L585.76,175.64 L586.76,176.30 L587.77,176.96 L588.78,177.61 L589.79,178.25 L590.81,178.89 L591.83,179.53 L592.85,180.17 L593.87,180.80 L594.89,181.43 L595.91,182.06 L596.94,182.68 L597.96,183.31 L598.99,183.93 L600.02,184.56 L601.04,185.18 L602.07,185.81 L603.09,186.44 L604.11,187.06 L605.14,187.69 L606.16,188.33 L607.18,188.96 L608.20,189.60 L609.21,190.24 L610.22,190.89 L611.23,191.54 L612.24,192.19 L613.24,192.85 L614.25,193.52 L615.24,194.19 L616.24,194.86 L617.23,195.53 L618.22,196.21 L619.21,196.89 L620.20,197.57 L621.19,198.25 L622.19,198.93 L623.18,199.60 L624.17,200.28 L625.17,200.95 L626.17,201.61 L627.17,202.27 L628.18,202.93 L629.19,203.58 L630.21,204.22 L631.23,204.85 L632.25,205.47 L633.29,206.09 L634.33,206.69 L635.37,207.28 L636.42,207.86 L637.48,208.42 L638.55,208.97 L639.63,209.51 L640.71,210.03 L641.80,210.54 L642.89,211.03 L643.99,211.52 L645.09,211.99 L646.20,212.46 L647.31,212.92 L648.42,213.37 L649.54,213.82 L650.66,214.26 L651.77,214.69 L652.89,215.13 L654.02,215.56 L655.14,215.99 L656.26,216.42 L657.38,216.86 L658.50,217.29 L659.62,217.73 L660.73,218.17 L661.85,218.62 L662.96,219.07 L664.07,219.53 L665.18,220.00 L666.28,220.47 L667.38,220.96 L668.47,221.46 L669.56,221.96 L670.64,222.48 L671.72,223.02 L672.79,223.56 L673.85,224.12 L674.90,224.70 L675.95,225.29 L676.99,225.90 L678.01,226.52 L679.03,227.17 L680.03,227.83 L681.02,228.50 L682.00,229.20" fill="none" stroke="#ff0000" stroke-width="2.2" stroke-linejoin="round"/>
<g font-size="24.5" fill="#262626"><text transform="translate(67.60,481.17) scale(0.98,1.06)" text-anchor="middle">0</text><text transform="translate(181.34,481.17) scale(0.98,1.06)" text-anchor="middle">0.2</text><text transform="translate(295.08,481.17) scale(0.98,1.06)" text-anchor="middle">0.4</text><text transform="translate(408.82,481.17) scale(0.98,1.06)" text-anchor="middle">0.6</text><text transform="translate(522.56,481.17) scale(0.98,1.06)" text-anchor="middle">0.8</text><text transform="translate(59.9,458.02) scale(0.98,1.06)" text-anchor="end">0</text><text transform="translate(59.9,348.32) scale(0.98,1.06)" text-anchor="end">2</text><text transform="translate(59.9,238.62) scale(0.98,1.06)" text-anchor="end">4</text><text transform="translate(59.9,128.92) scale(0.98,1.06)" text-anchor="end">6</text><text transform="translate(59.9,19.62) scale(0.98,1.06)" text-anchor="end">8</text></g>
<path d="M639.6,463.2 L637.7,463.2 C636.8,465.0 635.2,466.3 633.2,467.1 L633.2,469.4 C634.9,468.8 636.4,467.9 637.4,466.9 L637.4,481 L639.6,481 Z" fill="#262626"/>
<g font-size="27" fill="#262626"><text y="515.3"><tspan x="325.8">T</tspan><tspan x="342.7">i</tspan><tspan x="349.3">m</tspan><tspan x="372.25">e</tspan><tspan x="403.75">s</tspan></text><text y="515.1" font-size="25.6"><tspan x="395.9">[</tspan><tspan x="418.2">]</tspan></text></g>
<g transform="translate(35.6,0) rotate(-90)" font-size="27" fill="#262626"><text transform="translate(-306.30,0) scale(1.0,0.98)" x="0" y="0">F</text><text transform="translate(-288.30,0) scale(1.0,0.94)" x="0" y="0">l</text><text transform="translate(-282.40,0) scale(1.06,0.94)" x="0" y="0">o</text><text transform="translate(-266.20,0) scale(1.0,0.94)" x="0" y="0">w</text><text transform="translate(-239.00,0.6) scale(1.0,1.0)" x="0" y="0" font-size="26.3">[</text><text transform="translate(-231.05,0) scale(1.0,0.94)" x="0" y="0">c</text><text transform="translate(-216.10,0) scale(1.0,0.94)" x="0" y="0">m</text><text transform="translate(-193.60,-13.1) scale(1.0,1.0)" x="0" y="0" font-size="22.4">3</text><text transform="translate(-181.25,0) scale(1.0,1.0)" x="0" y="0">/</text><text transform="translate(-172.80,0) scale(0.9,0.94)" x="0" y="0">s</text><text transform="translate(-159.80,0.6) scale(1.0,1.0)" x="0" y="0" font-size="26.3">]</text></g>
<rect x="584" y="17" width="90" height="61" fill="#ffffff"/>
<rect x="584" y="17" width="90" height="1" fill="#9c9c9c"/>
<rect x="584" y="77" width="90" height="1" fill="#acacac"/>
<rect x="584" y="17" width="1" height="61" fill="#c8c8c8"/>
<rect x="673" y="17" width="1" height="61" fill="#e6e6e6"/>
<line x1="588" y1="33.1" x2="620.5" y2="33.1" stroke="#0000f0" stroke-width="2.7"/>
<line x1="588" y1="62" x2="620.5" y2="62" stroke="#f00000" stroke-width="2.7"/>
<g font-size="22.3" fill="#000"><text x="622.3" y="41.5">RCA</text><text x="622.3" y="70.6">LCA</text></g>
</svg>
</body></html>
